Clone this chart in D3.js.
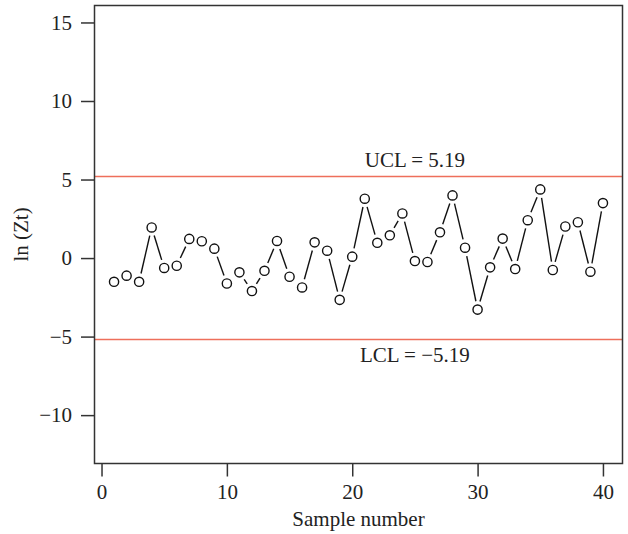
<!DOCTYPE html>
<html><head><meta charset="utf-8">
<script src="https://cdn.jsdelivr.net/npm/d3@7"></script>
<style>body{margin:0;background:#fff}svg{display:block}text{font-family:"Liberation Serif","DejaVu Serif",serif;fill:#222}</style>
</head><body><svg id="c" width="628" height="534"></svg>
<script>
const samples = d3.range(1, 41);
const lnZt = [-1.51,-1.12,-1.51,1.95,-0.63,-0.49,1.22,1.07,0.60,-1.62,
  -0.91,-2.10,-0.81,1.09,-1.19,-1.87,1.00,0.47,-2.66,0.09,
  3.78,0.97,1.45,2.84,-0.19,-0.25,1.64,3.99,0.66,-3.28,
  -0.59,1.24,-0.70,2.41,4.37,-0.76,2.01,2.28,-0.87,3.50];
const xTicks = [0,10,20,30,40];
const yTicks = [-10,-5,0,5,10,15];
const UCL = 5.19, LCL = -5.19;
const limitLabels = ["UCL = 5.19", "LCL = \u22125.19"];

const L=94.5,R=622.5,T=5.5,B=463.5;
const FS=21;
const svg=d3.select("#c");
const x=d3.scaleLinear().domain([-0.56,41.56]).range([L,R]);
const y=d3.scaleLinear().domain([-13.08,16.08]).range([B,T]);
const axisCol="#333";

// control limits
svg.selectAll("line.lim").data([UCL,LCL]).join("line")
  .attr("x1",L).attr("x2",R).attr("y1",d=>y(d)).attr("y2",d=>y(d))
  .attr("stroke","#ee6f5b").attr("stroke-width",1.5);
svg.append("text").attr("x",x(25)).attr("y",y(UCL)-9.5).attr("text-anchor","middle")
  .attr("font-size",FS).text(limitLabels[0]);
svg.append("text").attr("x",x(25)).attr("y",y(LCL)+22).attr("text-anchor","middle")
  .attr("font-size",FS).text(limitLabels[1]);

// box
svg.append("rect").attr("x",L).attr("y",T).attr("width",R-L).attr("height",B-T)
  .attr("fill","none").attr("stroke",axisCol).attr("stroke-width",1.5);

// axes
const xa=svg.append("g").attr("transform",`translate(0,${B})`)
  .call(d3.axisBottom(x).tickValues(xTicks).tickSize(13).tickPadding(8).tickFormat(d3.format("d")));
const ya=svg.append("g").attr("transform",`translate(${L-0.5},0)`)
  .call(d3.axisLeft(y).tickValues(yTicks).tickSize(13).tickPadding(9).tickFormat(d=>d<0?"\u2212"+Math.abs(d):d));
[xa,ya].forEach(a=>{a.select(".domain").remove();
  a.selectAll(".tick line").attr("stroke",axisCol).attr("stroke-width",1.5);
  a.selectAll(".tick text").attr("font-size",FS).attr("fill","#222").style("font-family",'"Liberation Serif",serif');});

svg.append("text").attr("x",(L+R)/2).attr("y",526).attr("text-anchor","middle").attr("font-size",FS).text("Sample number");
svg.append("text").attr("transform",`translate(28,${(T+B)/2}) rotate(-90)`).attr("text-anchor","middle").attr("font-size",FS).text("ln (Zt)");

// connecting segments with gaps (type "b")
const pts=samples.map((s,i)=>[x(s),y(lnZt[i])]);
const gap=8.5;
const segs=[];
for(let i=0;i<pts.length-1;i++){
  const [x1,y1]=pts[i],[x2,y2]=pts[i+1];
  const dx=x2-x1,dy=y2-y1,len=Math.hypot(dx,dy);
  if(len>2*gap){const ux=dx/len,uy=dy/len;segs.push([x1+ux*gap,y1+uy*gap,x2-ux*gap,y2-uy*gap]);}
}
svg.selectAll("line.seg").data(segs).join("line").attr("class","seg")
  .attr("x1",d=>d[0]).attr("y1",d=>d[1]).attr("x2",d=>d[2]).attr("y2",d=>d[3])
  .attr("stroke","#111").attr("stroke-width",1.4);
svg.selectAll("circle").data(samples).join("circle")
  .attr("cx",(d,i)=>x(d)).attr("cy",(d,i)=>y(lnZt[i])).attr("r",4.6)
  .attr("fill","#fff").attr("stroke","#111").attr("stroke-width",1.4);
</script></body></html>
